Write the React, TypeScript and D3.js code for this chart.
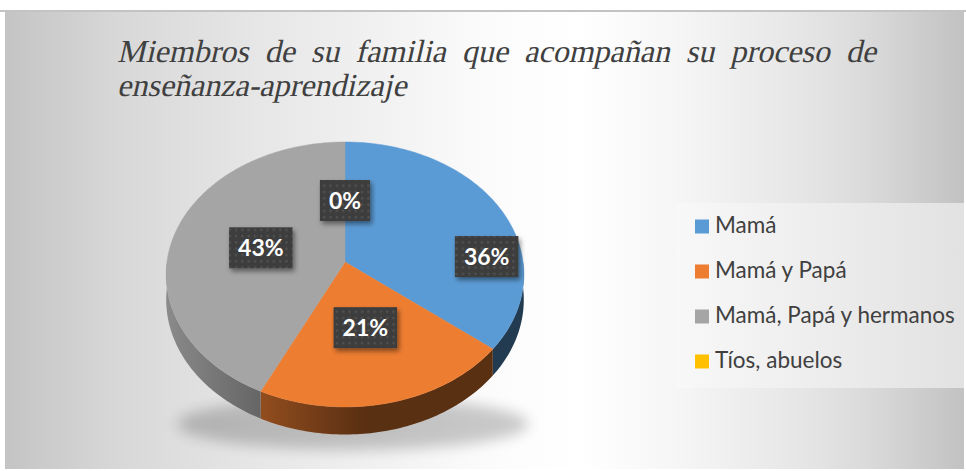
import React, { useEffect, useRef } from "react";
import * as d3 from "d3";

const categories = ["Mamá", "Mamá y Papá", "Mamá, Papá y hermanos", "Tíos, abuelos"];
const values = [5, 3, 6, 0];
const colors = ["#5b9bd5", "#ed7d31", "#a5a5a5", "#ffc000"];
const titleLines = ["Miembros de su familia que acompañan su proceso de", "enseñanza-aprendizaje"];
// label placement (radius as share of pie radius; optional angle override in degrees)
const labelRadius = [0.8, 0.49, 0.49, 0.49];
const labelAngleOverride: (number | null)[] = [87, null, null, null];

const W = 966;
const H = 471;

export default function App() {
  const ref = useRef<SVGSVGElement>(null);

  useEffect(() => {
    const svg = d3.select(ref.current as SVGSVGElement);
    svg.selectAll("*").remove();
    const defs = svg.append("defs");

    // background gradient
    const bg = defs.append("linearGradient").attr("id", "bgGrad").attr("x1", 0).attr("x2", 1).attr("y1", 0).attr("y2", 0);
    [
      [0, "#c4c4c4"], [0.12, "#d8d8d8"], [0.26, "#e6e6e6"], [0.5, "#fbfbfb"], [0.6, "#ffffff"],
      [0.7, "#f6f6f6"], [0.83, "#e6e6e6"], [0.9, "#dadada"], [1, "#c2c2c2"],
    ].forEach(([o, c]) => bg.append("stop").attr("offset", o as number).attr("stop-color", c as string));

    const lg = defs.append("linearGradient").attr("id", "legGrad").attr("x1", 0).attr("x2", 1).attr("y1", 0).attr("y2", 0);
    lg.append("stop").attr("offset", 0).attr("stop-color", "#f8f8f8");
    lg.append("stop").attr("offset", 1).attr("stop-color", "#e2e2e2");

    const dots = defs.append("pattern").attr("id", "dots").attr("patternUnits", "userSpaceOnUse")
      .attr("width", 6.3).attr("height", 6.3);
    dots.append("rect").attr("width", 6.3).attr("height", 6.3).attr("fill", "#3e3e3e");
    dots.append("rect").attr("x", 2).attr("y", 2).attr("width", 2).attr("height", 2).attr("fill", "#555555");

    const shadowF = defs.append("filter").attr("id", "lblShadow").attr("x", "-30%").attr("y", "-30%").attr("width", "160%").attr("height", "170%");
    shadowF.append("feDropShadow").attr("dx", 2).attr("dy", 3).attr("stdDeviation", 2.5).attr("flood-color", "#000").attr("flood-opacity", 0.45);

    const blurF = defs.append("filter").attr("id", "pieShadow").attr("x", "-30%").attr("y", "-80%").attr("width", "160%").attr("height", "260%");
    blurF.append("feGaussianBlur").attr("stdDeviation", 7);

    // chart area
    svg.append("rect").attr("x", 5).attr("y", 10).attr("width", 959).attr("height", 459).attr("fill", "url(#bgGrad)");
    svg.append("line").attr("x1", 0).attr("x2", W).attr("y1", 11).attr("y2", 11).attr("stroke", "#c3c3c3").attr("stroke-width", 2);

    // title: serif, slanted via skew (justified first line)
    const tx0 = 117, tx1 = 876;
    const y1 = 62, y2 = 96;
    const skew = (y: number) => `translate(0,${y}) skewX(-13) translate(0,${-y})`;
    const titleG = svg.append("g")
      .attr("font-family", "Liberation Serif, Times New Roman, serif")
      .attr("font-size", 32)
      .attr("fill", "#404040");
    const words = titleLines[0].split(" ");
    const wt = words.map((w) => {
      const t = titleG.append("text").text(w);
      const len = (t.node() as SVGTextElement).getComputedTextLength();
      t.remove();
      return len;
    });
    const total = d3.sum(wt);
    const gap = Math.max(6, (tx1 - tx0 - total) / (words.length - 1));
    let xx = tx0;
    const l1 = titleG.append("g").attr("transform", skew(y1));
    words.forEach((w, i) => {
      l1.append("text").attr("x", xx).attr("y", y1).text(w);
      xx += wt[i] + gap;
    });
    titleG.append("g").attr("transform", skew(y2)).append("text").attr("x", tx0).attr("y", y2).text(titleLines[1]);

    // pie geometry (perspective projection of a tilted disc)
    const cx = 345, cy = 262, rx = 178, ry = 131.3, k = 0.094, depth = 25;
    const proj = (theta: number, r: number, h: number): [number, number] => {
      const u = r * Math.sin(theta);
      const v = -r * Math.cos(theta);
      const s = 1 / (1 - k * v);
      return [cx + rx * u * s, cy + (ry * v + h) * s];
    };

    // soft shadow beneath pie
    svg.append("ellipse").attr("cx", cx + 8).attr("cy", 424).attr("rx", 176).attr("ry", 26)
      .attr("fill", "#000").attr("opacity", 0.2).attr("filter", "url(#pieShadow)");

    const pie = d3.pie<number>().sort(null).value((d) => d);
    const arcs = pie(values);
    const totalV = d3.sum(values);
    const line = d3.line();
    const step = Math.PI / 180;

    const shade = (theta: number) => 0.38 + 0.46 * Math.max(0, Math.cos(theta - (265 * Math.PI) / 180));

    // outer side walls (front half only), shaded with a horizontal gradient
    const sideG = svg.append("g");
    arcs.forEach((a, i) => {
      if (a.endAngle - a.startAngle <= 0) return;
      const s0 = Math.max(a.startAngle, Math.PI / 2);
      const s1 = Math.min(a.endAngle, (3 * Math.PI) / 2);
      if (s1 <= s0) return;
      const base = d3.rgb(colors[i]);
      const ts = d3.range(s0, s1, step).concat([s1]);
      const xs = ts.map((t) => proj(t, 1, 0)[0]);
      const xMin = d3.min(xs) as number, xMax = d3.max(xs) as number;
      const gid = `side${i}`;
      const gr = defs.append("linearGradient").attr("id", gid).attr("gradientUnits", "userSpaceOnUse")
        .attr("x1", xMin).attr("x2", xMax).attr("y1", 0).attr("y2", 0);
      const stops = ts.map((t, j) => ({ o: (xs[j] - xMin) / Math.max(1e-6, xMax - xMin), f: shade(t) }))
        .sort((p, q) => p.o - q.o);
      stops.filter((_, j) => j % 3 === 0 || j === stops.length - 1).forEach((s) => {
        gr.append("stop").attr("offset", s.o)
          .attr("stop-color", d3.rgb(base.r * s.f, base.g * s.f, base.b * s.f).formatHex());
      });
      const topPts = ts.map((t) => proj(t, 1, 0));
      const botPts = ts.slice().reverse().map((t) => proj(t, 1, depth));
      sideG.append("path").attr("d", line([...topPts, ...botPts]) + "Z").attr("fill", `url(#${gid})`);
    });

    // top faces
    const topG = svg.append("g");
    arcs.forEach((a, i) => {
      if (a.endAngle - a.startAngle <= 0) return;
      const ts = d3.range(a.startAngle, a.endAngle, step).concat([a.endAngle]);
      const pts: [number, number][] = [[cx, cy], ...ts.map((t) => proj(t, 1, 0))];
      topG.append("path").attr("d", line(pts) + "Z").attr("fill", colors[i]).attr("stroke", colors[i]).attr("stroke-width", 0.5);
    });

    // data labels
    const fmt = d3.format(".0%");
    const labG = svg.append("g").attr("font-family", "Lato").attr("font-weight", 700)
      .attr("font-size", 23).attr("fill", "#ffffff");
    arcs.forEach((a, i) => {
      const ov = labelAngleOverride[i];
      const ang = ov !== null ? (ov * Math.PI) / 180 : (a.startAngle + a.endAngle) / 2;
      const [lx, ly] = proj(ang, labelRadius[i], 0);
      const g = labG.append("g");
      const txt = g.append("text").attr("x", lx).attr("y", ly + 8.5).attr("text-anchor", "middle")
        .text(fmt(totalV ? a.data / totalV : 0));
      const tw = (txt.node() as SVGTextElement).getComputedTextLength();
      const bw = tw + 18, bh = 41;
      g.insert("rect", "text").attr("x", lx - bw / 2).attr("y", ly - bh / 2).attr("width", bw).attr("height", bh)
        .attr("fill", "url(#dots)").attr("filter", "url(#lblShadow)");
    });

    // legend
    svg.append("rect").attr("x", 676).attr("y", 203).attr("width", 288).attr("height", 185).attr("fill", "url(#legGrad)");
    const legG = svg.append("g").attr("font-family", "Lato").attr("font-size", 22.5).attr("fill", "#404040");
    const lyScale = d3.scalePoint<string>().domain(categories).range([233, 368]);
    categories.forEach((c, i) => {
      const y = lyScale(c) as number;
      legG.append("rect").attr("x", 695).attr("y", y - 13.5).attr("width", 14).attr("height", 14).attr("fill", colors[i]);
      legG.append("text").attr("x", 715).attr("y", y).text(c);
    });
  }, []);

  return (
    <svg ref={ref} width={W} height={H} style={{ position: "absolute", left: 0, top: 0, display: "block" }} />
  );
}
